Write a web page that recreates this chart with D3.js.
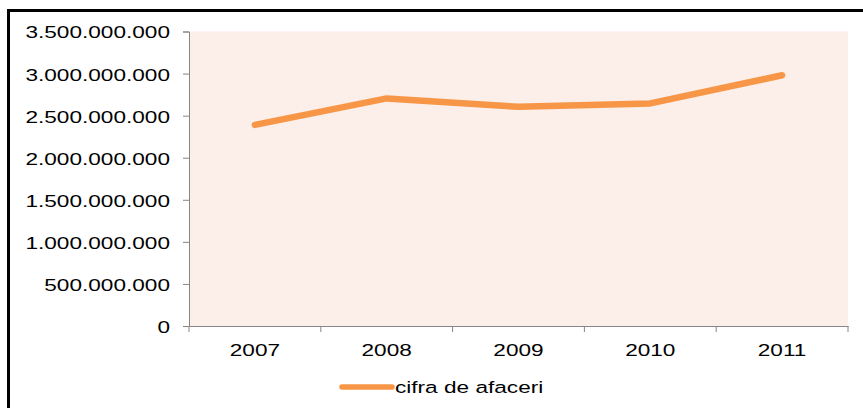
<!DOCTYPE html>
<html>
<head>
<meta charset="utf-8">
<script src="https://cdn.jsdelivr.net/npm/d3@7"></script>
<style>
  body { margin: 0; background: #fff; }
  svg { display: block; }
  text { font-family: "Liberation Sans", Arial, sans-serif; font-size: 17px; fill: #000; }
</style>
</head>
<body>
<svg id="chart" width="863" height="408"></svg>
<script>
// chart values
var years = ["2007", "2008", "2009", "2010", "2011"];
var cifraDeAfaceri = [2390000000, 2705000000, 2605000000, 2645000000, 2980000000];
var yTicks = [0, 500000000, 1000000000, 1500000000, 2000000000, 2500000000, 3000000000, 3500000000];
var seriesName = "cifra de afaceri";

var svg = d3.select("#chart"),
    margin = {top: 31.5, right: 15, bottom: 82, left: 189},
    width = 863 - margin.left - margin.right,
    height = 408 - margin.top - margin.bottom;

var stretch = 1.33; // text in the picture is drawn wide

// outer frame
svg.append("rect")
  .attr("x", 8.5).attr("y", 10.5)
  .attr("width", 900).attr("height", 500)
  .attr("fill", "none")
  .attr("stroke", "#000")
  .attr("stroke-width", 3);

var g = svg.append("g")
  .attr("transform", "translate(" + margin.left + "," + margin.top + ")");

var x = d3.scaleBand().domain(years).range([0, width]);
var y = d3.scaleLinear().domain([0, 3500000000]).range([height, 0]);

// plot area
g.append("rect")
  .attr("width", width).attr("height", height)
  .attr("fill", "#FCEEE9");

var fmt = function(d) { return d3.format(",")(d).replace(/,/g, "."); };

// y axis
var yAxis = g.append("g")
  .call(d3.axisLeft(y).tickValues(yTicks).tickFormat(fmt).tickSizeOuter(0).tickSize(6));
yAxis.select(".domain").attr("stroke", "#868686");
yAxis.selectAll(".tick line").attr("stroke", "#868686");
yAxis.selectAll("text")
  .attr("x", -19 / stretch)
  .attr("dy", "0.38em")
  .attr("transform", "scale(" + stretch + ",1)")
  .style("font-size", "17px")
  .style("font-family", "'Liberation Sans', Arial, sans-serif");

// x axis, ticks on category boundaries
var xAxis = g.append("g")
  .attr("transform", "translate(0," + height + ")")
  .call(d3.axisBottom(x).tickSize(0).tickSizeOuter(0));
xAxis.select(".domain").attr("stroke", "#868686");
xAxis.selectAll("text")
  .attr("y", 30)
  .attr("dy", "0")
  .attr("transform", "scale(" + stretch + ",1)")
  .style("font-size", "17px")
  .style("font-family", "'Liberation Sans', Arial, sans-serif");

var bounds = years.map(function(d) { return x(d); }).concat([width]);
xAxis.selectAll(".bound")
  .data(bounds)
  .enter().append("line")
  .attr("class", "bound")
  .attr("x1", function(d) { return d; })
  .attr("x2", function(d) { return d; })
  .attr("y1", 0).attr("y2", 6)
  .attr("stroke", "#868686");

// the line
var line = d3.line()
  .x(function(d, i) { return x(years[i]) + x.bandwidth() / 2; })
  .y(function(d) { return y(d); });

g.append("path")
  .datum(cifraDeAfaceri)
  .attr("d", line)
  .attr("fill", "none")
  .attr("stroke", "#F79646")
  .attr("stroke-width", 6.5)
  .attr("stroke-linecap", "round")
  .attr("stroke-linejoin", "round");

// legend
var legend = svg.append("g").attr("transform", "translate(342,387)");
legend.append("line")
  .attr("x1", 0).attr("x2", 50)
  .attr("y1", 0).attr("y2", 0)
  .attr("stroke", "#F79646")
  .attr("stroke-width", 5.5)
  .attr("stroke-linecap", "round");
legend.append("text")
  .attr("x", 53 / stretch)
  .attr("y", 6)
  .attr("transform", "scale(" + stretch + ",1)")
  .text(seriesName);
</script>
</body>
</html>
